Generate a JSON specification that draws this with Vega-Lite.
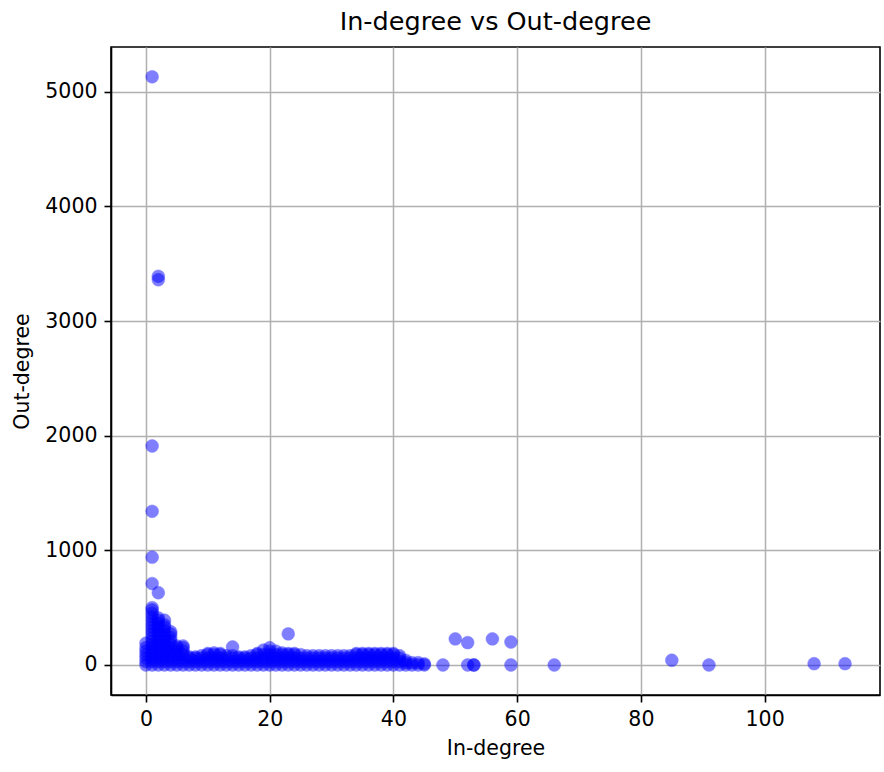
{
  "$schema": "https://vega.github.io/schema/vega-lite/v6.json",
  "width": 769,
  "height": 648,
  "autosize": "none",
  "padding": {"left": 111, "top": 47, "right": 4, "bottom": 77},
  "background": "white",
  "title": {"text": "In-degree vs Out-degree", "font": "DejaVu Sans", "fontSize": 25.5, "fontWeight": "normal", "color": "black", "anchor": "middle", "offset": 12},
  "config": {
    "view": {"stroke": "black", "strokeWidth": 1.6},
    "axis": {"labelFont": "DejaVu Sans", "labelFontSize": 20.5, "labelColor": "black", "titleFont": "DejaVu Sans", "titleFontSize": 20.5, "titleFontWeight": "normal", "titleColor": "black", "domainColor": "black", "domainWidth": 1.6, "tickColor": "black", "tickSize": 7, "tickWidth": 1.6, "gridColor": "#b0b0b0", "gridWidth": 1.5, "labelPadding": 7}
  },
  "data": {"values": [
    {"in":0,"out":0},{"in":0,"out":30},{"in":0,"out":60},{"in":0,"out":90},{"in":0,"out":120},{"in":0,"out":150},{"in":0,"out":190},
    {"in":1,"out":0},{"in":1,"out":30},{"in":1,"out":60},{"in":1,"out":90},{"in":1,"out":120},{"in":1,"out":150},{"in":1,"out":180},{"in":1,"out":210},{"in":1,"out":240},{"in":1,"out":270},{"in":1,"out":300},{"in":1,"out":330},{"in":1,"out":360},{"in":1,"out":390},{"in":1,"out":420},{"in":1,"out":450},{"in":1,"out":480},{"in":1,"out":500},{"in":1,"out":710},{"in":1,"out":940},{"in":1,"out":1340},{"in":1,"out":1910},{"in":1,"out":5130},
    {"in":2,"out":0},{"in":2,"out":30},{"in":2,"out":60},{"in":2,"out":90},{"in":2,"out":120},{"in":2,"out":150},{"in":2,"out":180},{"in":2,"out":210},{"in":2,"out":240},{"in":2,"out":270},{"in":2,"out":300},{"in":2,"out":330},{"in":2,"out":360},{"in":2,"out":390},{"in":2,"out":410},{"in":2,"out":630},{"in":2,"out":3360},{"in":2,"out":3390},
    {"in":3,"out":0},{"in":3,"out":30},{"in":3,"out":60},{"in":3,"out":90},{"in":3,"out":120},{"in":3,"out":150},{"in":3,"out":180},{"in":3,"out":210},{"in":3,"out":240},{"in":3,"out":270},{"in":3,"out":300},{"in":3,"out":330},{"in":3,"out":350},{"in":3,"out":390},
    {"in":4,"out":0},{"in":4,"out":30},{"in":4,"out":60},{"in":4,"out":90},{"in":4,"out":120},{"in":4,"out":150},{"in":4,"out":180},{"in":4,"out":210},{"in":4,"out":240},{"in":4,"out":270},{"in":4,"out":290},
    {"in":5,"out":0},{"in":5,"out":30},{"in":5,"out":60},{"in":5,"out":90},{"in":5,"out":120},{"in":5,"out":150},{"in":5,"out":165},
    {"in":6,"out":0},{"in":6,"out":30},{"in":6,"out":60},{"in":6,"out":90},{"in":6,"out":120},{"in":6,"out":150},{"in":6,"out":165},
    {"in":7,"out":0},{"in":7,"out":30},{"in":7,"out":60},{"in":7,"out":70},
    {"in":8,"out":0},{"in":8,"out":30},{"in":8,"out":60},{"in":8,"out":70},
    {"in":9,"out":0},{"in":9,"out":30},{"in":9,"out":60},{"in":9,"out":80},
    {"in":10,"out":0},{"in":10,"out":30},{"in":10,"out":60},{"in":10,"out":90},{"in":10,"out":100},
    {"in":11,"out":0},{"in":11,"out":30},{"in":11,"out":60},{"in":11,"out":90},{"in":11,"out":105},
    {"in":12,"out":0},{"in":12,"out":30},{"in":12,"out":60},{"in":12,"out":90},{"in":12,"out":100},
    {"in":13,"out":0},{"in":13,"out":30},{"in":13,"out":60},{"in":13,"out":80},
    {"in":14,"out":0},{"in":14,"out":30},{"in":14,"out":60},{"in":14,"out":80},{"in":14,"out":157},
    {"in":15,"out":0},{"in":15,"out":30},{"in":15,"out":60},{"in":15,"out":70},
    {"in":16,"out":0},{"in":16,"out":30},{"in":16,"out":60},{"in":16,"out":70},
    {"in":17,"out":0},{"in":17,"out":30},{"in":17,"out":60},{"in":17,"out":80},
    {"in":18,"out":0},{"in":18,"out":30},{"in":18,"out":60},{"in":18,"out":90},{"in":18,"out":100},
    {"in":19,"out":0},{"in":19,"out":30},{"in":19,"out":60},{"in":19,"out":90},{"in":19,"out":130},
    {"in":20,"out":0},{"in":20,"out":30},{"in":20,"out":60},{"in":20,"out":90},{"in":20,"out":120},{"in":20,"out":150},
    {"in":21,"out":0},{"in":21,"out":30},{"in":21,"out":60},{"in":21,"out":90},{"in":21,"out":120},
    {"in":22,"out":0},{"in":22,"out":30},{"in":22,"out":60},{"in":22,"out":90},{"in":22,"out":105},
    {"in":23,"out":0},{"in":23,"out":30},{"in":23,"out":60},{"in":23,"out":90},{"in":23,"out":100},{"in":23,"out":271},
    {"in":24,"out":0},{"in":24,"out":30},{"in":24,"out":60},{"in":24,"out":90},{"in":24,"out":100},
    {"in":25,"out":0},{"in":25,"out":30},{"in":25,"out":60},{"in":25,"out":90},
    {"in":26,"out":0},{"in":26,"out":30},{"in":26,"out":60},{"in":26,"out":80},
    {"in":27,"out":0},{"in":27,"out":30},{"in":27,"out":60},{"in":27,"out":80},
    {"in":28,"out":0},{"in":28,"out":30},{"in":28,"out":60},{"in":28,"out":80},
    {"in":29,"out":0},{"in":29,"out":30},{"in":29,"out":60},{"in":29,"out":80},
    {"in":30,"out":0},{"in":30,"out":30},{"in":30,"out":60},{"in":30,"out":80},
    {"in":31,"out":0},{"in":31,"out":30},{"in":31,"out":60},{"in":31,"out":80},
    {"in":32,"out":0},{"in":32,"out":30},{"in":32,"out":60},{"in":32,"out":80},
    {"in":33,"out":0},{"in":33,"out":30},{"in":33,"out":60},{"in":33,"out":80},
    {"in":34,"out":0},{"in":34,"out":30},{"in":34,"out":60},{"in":34,"out":90},{"in":34,"out":100},
    {"in":35,"out":0},{"in":35,"out":30},{"in":35,"out":60},{"in":35,"out":90},{"in":35,"out":100},
    {"in":36,"out":0},{"in":36,"out":30},{"in":36,"out":60},{"in":36,"out":90},{"in":36,"out":100},
    {"in":37,"out":0},{"in":37,"out":30},{"in":37,"out":60},{"in":37,"out":90},{"in":37,"out":100},
    {"in":38,"out":0},{"in":38,"out":30},{"in":38,"out":60},{"in":38,"out":90},{"in":38,"out":100},
    {"in":39,"out":0},{"in":39,"out":30},{"in":39,"out":60},{"in":39,"out":90},{"in":39,"out":100},
    {"in":40,"out":0},{"in":40,"out":30},{"in":40,"out":60},{"in":40,"out":90},{"in":40,"out":100},
    {"in":41,"out":0},{"in":41,"out":30},{"in":41,"out":60},{"in":41,"out":80},
    {"in":42,"out":0},{"in":42,"out":20},{"in":42,"out":40},
    {"in":43,"out":0},{"in":43,"out":20},
    {"in":44,"out":0},{"in":44,"out":20},
    {"in":45,"out":0},{"in":45,"out":10},
    {"in":48,"out":0},{"in":50,"out":227},{"in":52,"out":195},{"in":52,"out":0},{"in":53,"out":0},{"in":53,"out":0},{"in":56,"out":227},{"in":59,"out":200},{"in":59,"out":0},{"in":66,"out":0},{"in":85,"out":41},{"in":91,"out":0},{"in":108,"out":11},{"in":113,"out":11}
  ]},
  "mark": {"type": "point", "shape": "circle", "filled": true, "color": "blue", "opacity": 0.5, "size": 165, "strokeWidth": 1, "stroke": "blue", "strokeOpacity": 0.5},
  "encoding": {
    "x": {"field": "in", "type": "quantitative", "title": "In-degree",
      "scale": {"domain": [-5.65, 118.65], "nice": false, "zero": false},
      "axis": {"values": [0, 20, 40, 60, 80, 100], "format": "d", "titlePadding": 9}},
    "y": {"field": "out", "type": "quantitative", "title": "Out-degree",
      "scale": {"domain": [-262, 5390], "nice": false, "zero": false},
      "axis": {"values": [0, 1000, 2000, 3000, 4000, 5000], "format": "d", "titlePadding": 12}}
  }
}
